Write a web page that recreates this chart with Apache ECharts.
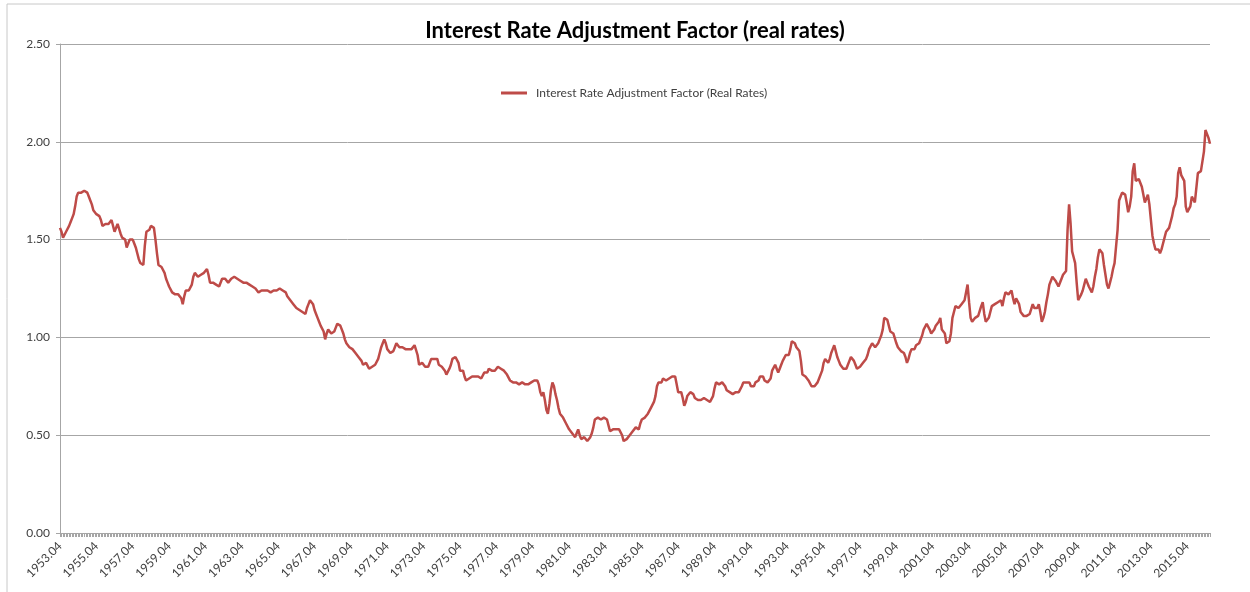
<!DOCTYPE html>
<html>
<head>
<meta charset="utf-8">
<script src="https://cdn.jsdelivr.net/npm/echarts@6/dist/echarts.min.js"></script>
<style>
  html, body { margin: 0; padding: 0; background: #fff; }
  #chart { width: 1250px; height: 592px; }
</style>
</head>
<body>
<div id="chart"></div>
<script>
// monthly series, one row per year starting in April
const ratio1950s = [
  1.56, 1.54, 1.51, 1.52, 1.54, 1.55, 1.57, 1.59, 1.61, 1.63, 1.67, 1.72, // 1953
  1.74, 1.73, 1.74, 1.75, 1.75, 1.74, 1.74, 1.72, 1.70, 1.68, 1.65, 1.64,
  1.63, 1.63, 1.62, 1.60, 1.57, 1.56, 1.58, 1.59, 1.58, 1.59, 1.60, 1.60,
  1.54, 1.53, 1.58, 1.57, 1.53, 1.51, 1.50, 1.50, 1.46, 1.48, 1.50, 1.51,
  1.50, 1.48, 1.46, 1.43, 1.40, 1.38, 1.37, 1.37, 1.47, 1.54, 1.54, 1.55,
  1.57, 1.58, 1.56, 1.50, 1.43, 1.37, 1.36, 1.36, 1.35, 1.33, 1.30, 1.28,
  1.26, 1.25, 1.23, 1.23, 1.22, 1.23, 1.22, 1.21, 1.20, 1.17, 1.21, 1.24
];
const ratio1960s = [
  1.25, 1.24, 1.24, 1.27, 1.31, 1.33, 1.32, 1.31, 1.31, 1.32, 1.33, 1.33,
  1.34, 1.35, 1.32, 1.28, 1.28, 1.28, 1.28, 1.27, 1.27, 1.26, 1.27, 1.30,
  1.31, 1.30, 1.29, 1.28, 1.29, 1.30, 1.31, 1.31, 1.31, 1.30, 1.30, 1.29,
  1.29, 1.28, 1.28, 1.28, 1.28, 1.27, 1.27, 1.26, 1.26, 1.25, 1.24, 1.23,
  1.23, 1.24, 1.25, 1.24, 1.23, 1.24, 1.24, 1.23, 1.24, 1.24, 1.25, 1.24,
  1.25, 1.25, 1.25, 1.24, 1.24, 1.23, 1.21, 1.20, 1.19, 1.18, 1.17, 1.16,
  1.15, 1.14, 1.14, 1.14, 1.13, 1.12, 1.12, 1.15, 1.17, 1.19, 1.18, 1.17,
  1.14, 1.12, 1.10, 1.08, 1.06, 1.05, 1.03, 0.99, 1.02, 1.04, 1.03, 1.02,
  1.01, 1.03, 1.05, 1.07, 1.07, 1.06, 1.05, 1.02, 0.99, 0.97, 0.96, 0.95,
  0.95, 0.94, 0.93, 0.92, 0.91, 0.90, 0.89, 0.88, 0.86, 0.86, 0.87, 0.87
];
const ratio1970s = [
  0.84, 0.83, 0.85, 0.85, 0.86, 0.87, 0.89, 0.92, 0.95, 0.97, 0.99, 0.97,
  0.94, 0.93, 0.92, 0.91, 0.93, 0.95, 0.97, 0.96, 0.95, 0.95, 0.95, 0.94,
  0.94, 0.94, 0.94, 0.94, 0.94, 0.95, 0.96, 0.97, 0.91, 0.86, 0.86, 0.87,
  0.86, 0.85, 0.84, 0.85, 0.87, 0.89, 0.89, 0.89, 0.90, 0.89, 0.86, 0.85,
  0.85, 0.85, 0.83, 0.81, 0.82, 0.84, 0.86, 0.89, 0.90, 0.90, 0.90, 0.87,
  0.83, 0.83, 0.83, 0.80, 0.78, 0.77, 0.79, 0.79, 0.80, 0.80, 0.80, 0.80,
  0.80, 0.80, 0.79, 0.80, 0.82, 0.82, 0.82, 0.84, 0.84, 0.83, 0.82, 0.83,
  0.84, 0.85, 0.85, 0.84, 0.83, 0.83, 0.82, 0.81, 0.80, 0.78, 0.78, 0.77,
  0.77, 0.77, 0.76, 0.76, 0.76, 0.77, 0.77, 0.76, 0.76, 0.76, 0.76, 0.77,
  0.77, 0.78, 0.78, 0.78, 0.76, 0.72, 0.70, 0.72, 0.68, 0.63, 0.61, 0.66
];
const ratio1980s = [
  0.73, 0.77, 0.75, 0.71, 0.68, 0.64, 0.61, 0.60, 0.59, 0.59, 0.56, 0.55,
  0.53, 0.52, 0.51, 0.50, 0.49, 0.51, 0.53, 0.50, 0.48, 0.48, 0.49, 0.48,
  0.47, 0.48, 0.49, 0.51, 0.54, 0.58, 0.59, 0.59, 0.58, 0.58, 0.59, 0.59,
  0.58, 0.58, 0.55, 0.52, 0.52, 0.53, 0.53, 0.53, 0.53, 0.53, 0.52, 0.50,
  0.47, 0.47, 0.48, 0.49, 0.50, 0.51, 0.52, 0.53, 0.54, 0.53, 0.53, 0.56,
  0.58, 0.59, 0.59, 0.59, 0.61, 0.62, 0.64, 0.65, 0.67, 0.70, 0.75, 0.77,
  0.77, 0.77, 0.79, 0.80, 0.78, 0.77, 0.79, 0.79, 0.80, 0.80, 0.80, 0.76,
  0.72, 0.72, 0.72, 0.69, 0.65, 0.67, 0.70, 0.71, 0.72, 0.73, 0.71, 0.69,
  0.68, 0.68, 0.67, 0.68, 0.69, 0.69, 0.68, 0.68, 0.68, 0.67, 0.67, 0.70,
  0.74, 0.77, 0.77, 0.76, 0.76, 0.77, 0.77, 0.75, 0.73, 0.73, 0.72, 0.71
];
const ratio1990s = [
  0.71, 0.72, 0.72, 0.72, 0.72, 0.73, 0.75, 0.77, 0.77, 0.77, 0.77, 0.77,
  0.75, 0.74, 0.75, 0.77, 0.77, 0.78, 0.80, 0.81, 0.80, 0.78, 0.78, 0.77,
  0.77, 0.79, 0.83, 0.84, 0.86, 0.84, 0.82, 0.84, 0.86, 0.88, 0.89, 0.91,
  0.91, 0.91, 0.94, 0.98, 0.99, 0.97, 0.95, 0.94, 0.93, 0.88, 0.81, 0.80,
  0.80, 0.79, 0.78, 0.77, 0.75, 0.74, 0.75, 0.76, 0.77, 0.79, 0.80, 0.83,
  0.87, 0.89, 0.88, 0.87, 0.89, 0.92, 0.94, 0.96, 0.93, 0.90, 0.88, 0.86,
  0.85, 0.84, 0.83, 0.84, 0.86, 0.88, 0.90, 0.89, 0.88, 0.86, 0.84, 0.83,
  0.85, 0.86, 0.87, 0.88, 0.89, 0.91, 0.94, 0.95, 0.97, 0.96, 0.95, 0.95,
  0.97, 0.99, 1.01, 1.04, 1.10, 1.10, 1.09, 1.06, 1.03, 1.02, 1.02, 1.01,
  0.97, 0.95, 0.94, 0.93, 0.93, 0.92, 0.90, 0.87, 0.89, 0.92, 0.94, 0.95
];
const ratio2000s = [
  0.94, 0.96, 0.97, 0.97, 0.98, 1.01, 1.04, 1.05, 1.07, 1.06, 1.04, 1.02,
  1.03, 1.04, 1.06, 1.07, 1.08, 1.10, 1.04, 1.03, 1.02, 0.97, 0.97, 0.98,
  1.02, 1.10, 1.13, 1.16, 1.16, 1.15, 1.16, 1.17, 1.18, 1.19, 1.19, 1.27,
  1.18, 1.10, 1.08, 1.09, 1.10, 1.10, 1.11, 1.12, 1.16, 1.18, 1.12, 1.08,
  1.08, 1.10, 1.13, 1.16, 1.17, 1.17, 1.17, 1.18, 1.19, 1.19, 1.16, 1.20,
  1.23, 1.22, 1.22, 1.23, 1.24, 1.20, 1.17, 1.20, 1.21, 1.17, 1.13, 1.12,
  1.11, 1.11, 1.11, 1.12, 1.12, 1.13, 1.17, 1.15, 1.14, 1.15, 1.17, 1.13,
  1.08, 1.10, 1.13, 1.18, 1.22, 1.27, 1.29, 1.31, 1.30, 1.29, 1.28, 1.26,
  1.27, 1.30, 1.32, 1.33, 1.34, 1.55, 1.68, 1.58, 1.44, 1.41, 1.38, 1.28,
  1.19, 1.20, 1.22, 1.24, 1.27, 1.30, 1.28, 1.26, 1.25, 1.23, 1.26, 1.31
];
const ratio2010s = [
  1.35, 1.41, 1.45, 1.45, 1.43, 1.37, 1.32, 1.27, 1.25, 1.28, 1.31, 1.35,
  1.38, 1.39, 1.55, 1.70, 1.72, 1.74, 1.74, 1.73, 1.69, 1.64, 1.67, 1.72,
  1.85, 1.89, 1.80, 1.80, 1.81, 1.81, 1.77, 1.73, 1.69, 1.68, 1.73, 1.68,
  1.60, 1.52, 1.48, 1.45, 1.46, 1.45, 1.43, 1.45, 1.48, 1.51, 1.54, 1.55,
  1.56, 1.59, 1.62, 1.66, 1.68, 1.72, 1.84, 1.87, 1.83, 1.82, 1.80, 1.67,
  1.64, 1.63, 1.67, 1.72, 1.71, 1.69, 1.68, 1.84, 1.85, 1.85, 1.86, 1.95,
  2.06, 2.05, 2.02, 1.99
];

const ratio = [].concat(ratio1950s, ratio1960s, ratio1970s, ratio1980s,
  ratio1990s, ratio2000s, ratio2010s);

const startYear = 1953;
const startMonth = 4;
const months = [];
for (let i = 0; i < ratio.length; i++) {
  const n = startMonth - 1 + i;
  const y = startYear + Math.floor(n / 12);
  const m = (n % 12) + 1;
  months.push(y + '.' + (m < 10 ? '0' + m : m));
}

const seriesName = 'Interest Rate Adjustment Factor (Real Rates)';
const font = 'Lato, "Liberation Sans", sans-serif';

const chart = echarts.init(document.getElementById('chart'));
chart.setOption({
  animation: false,
  backgroundColor: '#fff',
  textStyle: { fontFamily: font },
  title: {
    text: 'Interest Rate Adjustment Factor (real rates)',
    left: 630,
    top: 15,
    textAlign: 'center',
    textStyle: { fontFamily: font, fontSize: 22, fontWeight: 'bold', color: '#000' }
  },
  legend: {
    left: 496,
    top: 82,
    icon: 'rect',
    itemWidth: 26,
    itemHeight: 3,
    itemGap: 10,
    textStyle: { fontFamily: font, fontSize: 12, color: '#404040', padding: [0, 0, 0, 4] },
    data: [seriesName]
  },
  graphic: [{
    type: 'rect',
    shape: { x: 7, y: 4, width: 1300, height: 700 },
    style: { fill: 'none', stroke: '#c8c8c8', lineWidth: 1 },
    silent: true
  }],
  grid: { left: 60, right: 40, top: 44, bottom: 59, containLabel: false },
  xAxis: {
    type: 'category',
    data: months,
    boundaryGap: false,
    axisLine: { lineStyle: { color: '#a6a6a6', width: 1 } },
    axisTick: { interval: 0, length: 4, lineStyle: { color: '#a6a6a6' } },
    axisLabel: { interval: 23, rotate: 45, fontSize: 12, color: '#404040', margin: 11 },
    splitLine: { show: false }
  },
  yAxis: {
    type: 'value',
    min: 0,
    max: 2.5,
    interval: 0.5,
    axisLine: { show: true, lineStyle: { color: '#a6a6a6' } },
    axisTick: { show: true, length: 4, lineStyle: { color: '#a6a6a6' } },
    axisLabel: { fontSize: 12, color: '#404040', margin: 10,
      formatter: v => v.toFixed(2) },
    splitLine: { lineStyle: { color: '#a6a6a6', width: 1 } }
  },
  series: [{
    name: seriesName,
    type: 'line',
    data: ratio,
    showSymbol: false,
    symbol: 'none',
    color: '#be4b48',
    lineStyle: { color: '#be4b48', width: 2.5 }
  }]
});
</script>
</body>
</html>
